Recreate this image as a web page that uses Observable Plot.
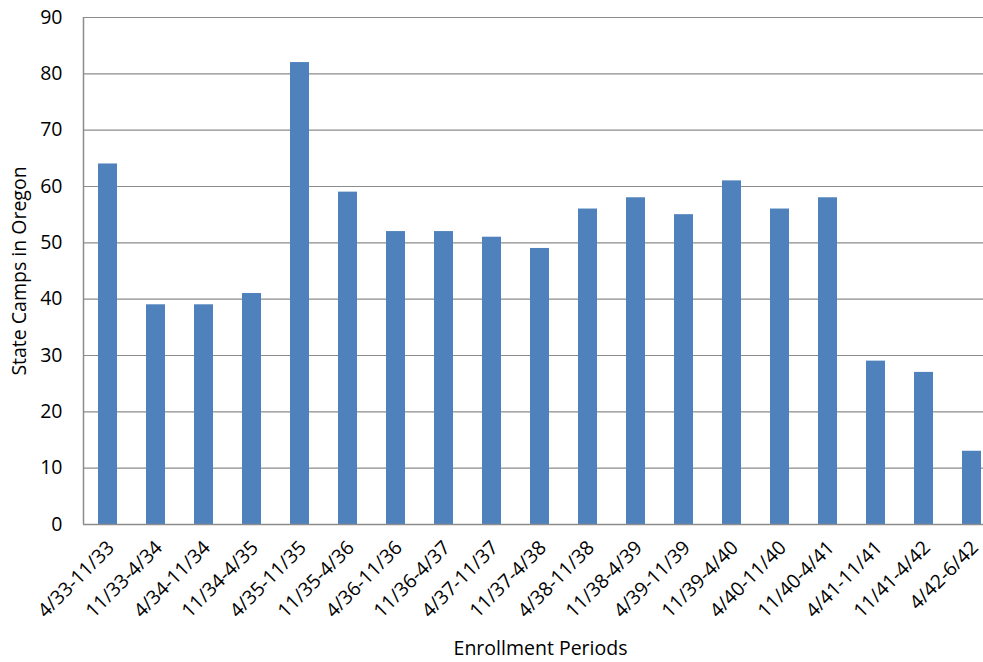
<!DOCTYPE html>
<html>
<head>
<meta charset="utf-8">
<script src="https://cdn.jsdelivr.net/npm/d3@7"></script>
<script src="https://cdn.jsdelivr.net/npm/@observablehq/plot@0.6"></script>
<style>
  html, body { margin: 0; padding: 0; background: #fff; }
  #chart svg { display: block; }
</style>
</head>
<body>
<div id="chart"></div>
<script>
const periods = ["4/33-11/33","11/33-4/34","4/34-11/34","11/34-4/35","4/35-11/35","11/35-4/36","4/36-11/36","11/36-4/37","4/37-11/37","11/37-4/38","4/38-11/38","11/38-4/39","4/39-11/39","11/39-4/40","4/40-11/40","11/40-4/41","4/41-11/41","11/41-4/42","4/42-6/42"];
const camps = [64,39,39,41,82,59,52,52,51,49,56,58,55,61,56,58,29,27,13];
const yTicks = [0,10,20,30,40,50,60,70,80,90];

const data = periods.map((p, i) => ({period: p, camps: camps[i]}));

const chart = Plot.plot({
  width: 983,
  height: 662,
  marginLeft: 83,
  marginRight: 0,
  marginTop: 17,
  marginBottom: 138,
  style: {fontFamily: "'Open Sans', sans-serif", fontSize: "19px", color: "#000", background: "#fff"},
  x: {domain: periods, range: [83, 997], paddingInner: 0.6, paddingOuter: 0.3, label: null, axis: null},
  y: {domain: [0, 90], label: null, axis: null},
  marks: [
    Plot.ruleY(yTicks, {stroke: "#8c8c8c", strokeWidth: 1.2}),
    Plot.barY(data, {x: "period", y: "camps", fill: "#4F81BD"}),
    Plot.ruleY([0], {stroke: "#8c8c8c", strokeWidth: 1.5}),
    Plot.axisY(yTicks, {tickSize: 0, tickPadding: 21, fontSize: 19.5, label: null}),
    Plot.text(data, {x: "period", y: () => 0, text: "period", rotate: -45, textAnchor: "end", lineAnchor: "middle", dx: 3, dy: 20, fontSize: 19.5}),
    Plot.text(["State Camps in Oregon"], {frameAnchor: "left", rotate: -90, textAnchor: "middle", lineAnchor: "middle", dx: -64, fontSize: 19.5}),
    Plot.text(["Enrollment Periods"], {frameAnchor: "bottom", textAnchor: "middle", lineAnchor: "middle", dx: 7, dy: 124, fontSize: 19.5})
  ]
});
document.getElementById("chart").appendChild(chart);
d3.select(chart).append("line")
  .attr("x1", 83.5).attr("x2", 83.5).attr("y1", 17).attr("y2", 524)
  .attr("stroke", "#8c8c8c").attr("stroke-width", 1.5);
</script>
</body>
</html>
